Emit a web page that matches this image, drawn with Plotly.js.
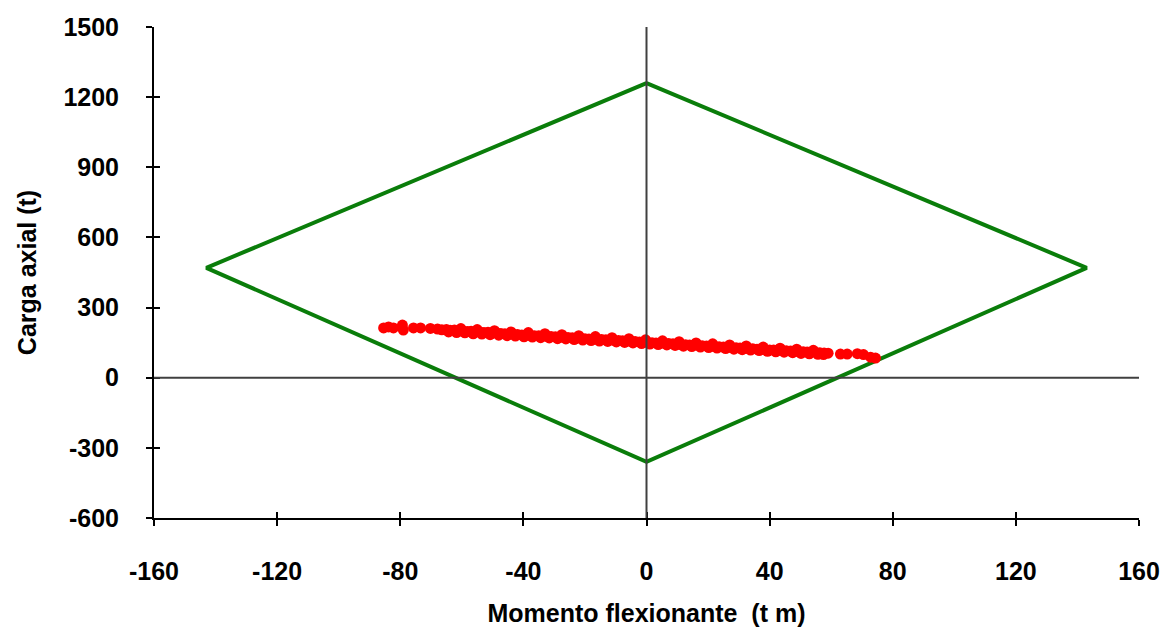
<!DOCTYPE html>
<html>
<head>
<meta charset="utf-8">
<script src="https://cdn.plot.ly/plotly-3.0.1.min.js"></script>
<style>html,body{margin:0;padding:0;background:#fff;}#chart{width:1166px;height:635px;}</style>
</head>
<body>
<div id="chart"></div>
<script>
// Interaction diagram (diamond envelope)
const envelopeMoment = [0, 143, 0, -143, 0];
const envelopeLoad = [1260, 470, -360, 470, 1260];

// Demand points (moment, axial load)
const demandMoment = [
  -85.4, -83.8, -82.2, -79.3, -79.0, -75.7, -73.4, -70.2, -67.9, -66.5, -65.0, -63.8, -62.4, -61.0, -59.7, -58.2,
  -57.0, -55.6, -54.1, -52.8, -51.5, -50.0, -48.7, -47.3, -46.0, -44.6, -43.2, -41.9, -40.5, -39.1, -37.8, -36.4,
  -35.0, -33.7, -32.3, -31.0, -29.6, -28.2, -26.9, -25.5, -24.1, -22.8, -21.4, -20.0, -18.7, -17.3, -16.0, -14.6,
  -13.2, -11.9, -10.5, -9.1, -7.8, -6.4, -5.0, -3.7, -2.3, -1.0, 0.4, 1.8, 3.1, 4.5, 5.9, 7.2, 8.6, 10.0, 11.3,
  12.7, 14.0, 15.4, 16.8, 18.1, 19.5, 20.9, 22.2, 23.6, 25.0, 26.3, 27.7, 29.1, 30.4, 31.8, 33.1, 34.5, 35.9,
  37.2, 38.6, 40.0, 41.3, 42.7, 44.1, 45.4, 46.8, 48.1, 49.5, 50.9, 52.2, 53.6, 55.0, 56.3, 57.7, 59.0, 63.0,
  65.2, 68.5, 70.5, 72.8, 74.4,
  -64.3, -61.7, -59.0, -56.3, -53.5, -50.8, -48.0, -45.3, -42.6, -39.8, -37.1, -34.4, -31.6, -28.9, -26.2, -23.5,
  -20.7, -18.0, -15.3, -12.6, -9.8, -7.1, -4.4, -1.6, 1.1, 3.8, 6.6, 9.3, 12.0, 14.7, 17.5, 20.2, 22.9, 25.7,
  28.4, 31.1, 33.8, 36.6, 39.3, 42.0, 44.7, 47.5, 50.2, 52.9, 55.7, 57.5,
  -60.3, -55.0, -49.4, -44.0, -38.4, -33.0, -27.5, -22.0, -16.6, -11.2, -5.7, -0.3, 5.2, 10.6, 16.1, 21.5,
  27.0, 32.4, 37.9, 43.4, 48.8, 54.2
];
const demandLoad = [
  213, 217, 213, 225, 204, 213, 213, 211, 208, 205, 206, 203, 204, 199, 201, 198,
  199, 195, 196, 193, 194, 191, 192, 189, 188, 187, 186, 185, 183, 184, 181, 180,
  180, 178, 177, 176, 175, 174, 173, 172, 171, 169, 169, 167, 166, 165, 164, 163,
  162, 161, 160, 159, 158, 157, 156, 155, 153, 152, 151, 150, 149, 148, 147, 146, 145, 143, 142,
  141, 140, 139, 138, 137, 136, 135, 133, 132, 131, 130, 129, 128, 127, 126, 125, 124, 122,
  121, 120, 119, 118, 117, 116, 115, 114, 113, 112, 111, 110, 109, 108, 107, 106, 105, 101,
  101, 103, 99, 88, 84,
  196, 193, 192, 188, 187, 184, 182, 180, 178, 175, 174, 171, 170, 167, 166, 163,
  161, 159, 157, 155, 153, 151, 149, 146, 144, 142, 140, 138, 135, 133, 131, 129, 127, 125,
  122, 120, 118, 116, 113, 111, 109, 107, 104, 102, 100, 99,
  210, 206, 201, 196, 193, 188, 184, 180, 176, 171, 167, 162, 158, 154, 149, 145,
  140, 136, 131, 126, 122, 117
];

const xTicks = [-160, -120, -80, -40, 0, 40, 80, 120, 160];
const yTicks = [-600, -300, 0, 300, 600, 900, 1200, 1500];

const fontFam = '"Liberation Sans", Arial, sans-serif';
const labelFont = {family: fontFam, size: 25, color: '#000', weight: 'bold'};

const traces = [
  {
    x: envelopeMoment, y: envelopeLoad, type: 'scatter', mode: 'lines',
    line: {color: '#0a7d0a', width: 4}, hoverinfo: 'skip', showlegend: false
  },
  {
    x: demandMoment, y: demandLoad, type: 'scatter', mode: 'markers',
    marker: {color: '#ff0000', size: 11, line: {width: 0}}, showlegend: false
  }
];

const layout = {
  width: 1166, height: 635,
  margin: {l: 154, r: 27, t: 27, b: 117},
  paper_bgcolor: '#ffffff', plot_bgcolor: '#ffffff',
  font: {family: fontFam, color: '#000', size: 25},
  showlegend: false,
  xaxis: {
    range: [-160, 160], tickvals: xTicks, ticktext: xTicks.map(String),
    showgrid: false, zeroline: false, showline: true, linecolor: '#000', linewidth: 2,
    ticks: 'outside', ticklen: 6, tickwidth: 2, tickcolor: '#000',
    ticklabelstandoff: 24,
    tickfont: labelFont,
    title: {text: 'Momento flexionante  (t m)', font: labelFont, standoff: 20}
  },
  yaxis: {
    range: [-600, 1500], tickvals: yTicks, ticktext: yTicks.map(String),
    showgrid: false, zeroline: false, showline: true, linecolor: '#000', linewidth: 2,
    ticks: 'outside', ticklen: 6, tickwidth: 2, tickcolor: '#000',
    ticklabelstandoff: 22,
    tickfont: labelFont,
    title: {text: 'Carga axial (t)', font: labelFont, standoff: 20}
  },
  xaxis2: {
    range: [-160, 160], tickvals: xTicks, overlaying: 'x', anchor: 'y', side: 'bottom',
    showgrid: false, zeroline: false, showticklabels: false,
    ticks: 'inside', ticklen: 6, tickwidth: 2, tickcolor: '#000'
  },
  yaxis2: {
    range: [-600, 1500], tickvals: yTicks, overlaying: 'y', anchor: 'x', side: 'left',
    showgrid: false, zeroline: false, showticklabels: false,
    ticks: 'inside', ticklen: 6, tickwidth: 2, tickcolor: '#000'
  },
  shapes: [
    {type: 'line', xref: 'x', yref: 'paper', x0: 0, x1: 0, y0: 0, y1: 1, line: {color: '#404040', width: 2}, layer: 'above'},
    {type: 'line', xref: 'paper', yref: 'y', x0: 0, x1: 1, y0: 0, y1: 0, line: {color: '#404040', width: 2}, layer: 'above'}
  ]
};

// invisible trace so the tick-only secondary axes are drawn
traces.push({x: [0], y: [0], xaxis: 'x2', yaxis: 'y2', type: 'scatter', mode: 'markers', marker: {opacity: 0}, hoverinfo: 'skip', showlegend: false});

Plotly.newPlot('chart', traces, layout, {displayModeBar: false, staticPlot: true});
</script>
</body>
</html>
